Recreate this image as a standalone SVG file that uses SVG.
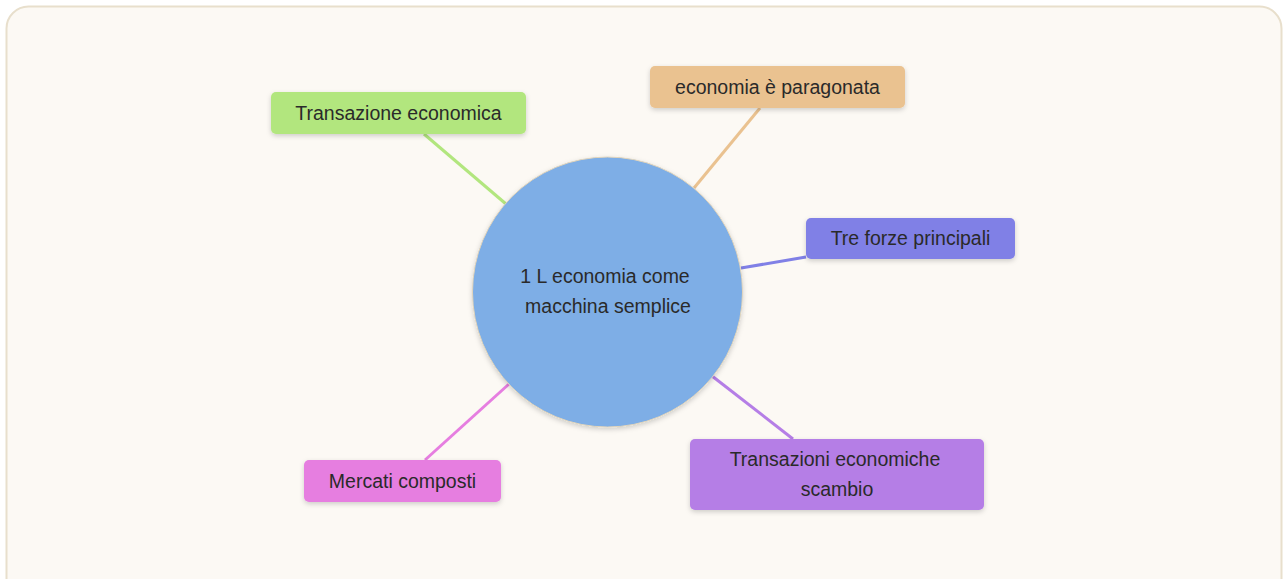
<svg xmlns="http://www.w3.org/2000/svg" width="1283" height="579" viewBox="0 0 1283 579">
<style>
.t{font-family:"Liberation Sans",Arial,sans-serif;font-size:19.5px;fill:#2a2a2a;text-anchor:middle}
.n{filter:url(#sh)}
.c{fill:none;stroke-width:3}
</style>
<defs>
<filter id="sh" x="-20%" y="-40%" width="140%" height="180%">
<feDropShadow dx="0" dy="2" stdDeviation="2.5" flood-color="#000" flood-opacity="0.18"/>
</filter>
</defs>
<rect x="0" y="0" width="1283" height="579" fill="#ffffff"/>
<rect x="6.5" y="6.5" width="1275" height="600" rx="22" fill="#fcf9f4" stroke="#e8dfcc" stroke-width="2"/>
<g id="connectors">
<line class="c" x1="424" y1="134" x2="506" y2="204" stroke="#b2e67e"/>
<line class="c" x1="760" y1="108" x2="694" y2="188" stroke="#eac290"/>
<line class="c" x1="806" y1="257" x2="741" y2="268" stroke="#8080e6"/>
<line class="c" x1="712" y1="376" x2="793" y2="439" stroke="#b57ee6"/>
<line class="c" x1="425" y1="460" x2="509" y2="384" stroke="#e67ee0"/>
</g>
<g id="center">
<circle class="n" cx="607.5" cy="292" r="135" fill="#7eaee6" stroke="#e0d4bc" stroke-width="1"/>
<text class="t" x="605" y="283">1 L economia come</text>
<text class="t" x="608" y="313">macchina semplice</text>
</g>
<g id="n1">
<rect class="n" x="271" y="92" width="255" height="42" rx="5" fill="#b2e67e"/>
<text class="t" x="398.5" y="120">Transazione economica</text>
</g>
<g id="n2">
<rect class="n" x="650" y="66" width="255" height="42" rx="5" fill="#eac290"/>
<text class="t" x="777.5" y="94">economia è paragonata</text>
</g>
<g id="n3">
<rect class="n" x="806" y="218" width="209" height="41" rx="5" fill="#8080e6"/>
<text class="t" x="910.5" y="245">Tre forze principali</text>
</g>
<g id="n4">
<rect class="n" x="690" y="439" width="294" height="71" rx="5" fill="#b57ee6"/>
<text class="t" x="835" y="466">Transazioni economiche</text>
<text class="t" x="837" y="496">scambio</text>
</g>
<g id="n5">
<rect class="n" x="304" y="460" width="197" height="42" rx="5" fill="#e67ee0"/>
<text class="t" x="402.5" y="488">Mercati composti</text>
</g>
</svg>
